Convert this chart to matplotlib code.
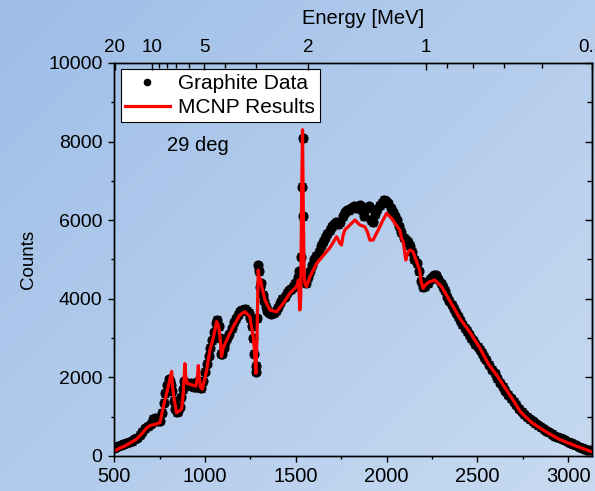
import numpy as np
import matplotlib
matplotlib.use("Agg")
import matplotlib.pyplot as plt
from matplotlib.lines import Line2D
from matplotlib.ticker import MultipleLocator, FixedLocator, NullFormatter

plt.rcParams['font.family'] = ['Liberation Sans', 'DejaVu Sans']

# ---------------- data ----------------
data_ch = [500, 510, 520, 535, 550, 565, 580, 595, 610, 625, 640, 655, 670, 685, 700,
           712, 722, 735, 750, 762, 772, 782, 792, 800, 806, 812, 820, 828, 836, 844,
           852, 860, 868, 876, 884, 892, 900, 910, 920, 930, 940, 950, 960, 970, 980,
           990, 1000, 1010, 1020, 1030, 1040, 1050, 1060, 1068, 1076, 1084, 1090, 1096,
           1104, 1112, 1122, 1134, 1146, 1158, 1170, 1182, 1194, 1206, 1218, 1230, 1240,
           1250, 1258, 1266, 1272, 1278, 1283, 1288, 1292, 1298, 1304, 1310, 1318, 1326,
           1334, 1344, 1354, 1366, 1378, 1390, 1402, 1414, 1426, 1438, 1450, 1462, 1474,
           1486, 1498, 1510, 1520, 1527, 1532, 1537, 1542, 1548, 1556, 1566, 1578, 1590,
           1602, 1614, 1626, 1638, 1650, 1662, 1674, 1686, 1698, 1710, 1722, 1734, 1746,
           1758, 1770, 1782, 1794, 1806, 1818, 1830, 1842, 1854, 1866, 1878, 1890, 1902,
           1914, 1926, 1938, 1950, 1962, 1974, 1986, 1998, 2010, 2022, 2034, 2046, 2058,
           2070, 2082, 2094, 2106, 2118, 2130, 2142, 2154, 2166, 2178, 2190, 2202, 2214,
           2226, 2238, 2250, 2262, 2274, 2286, 2298, 2310, 2322, 2334, 2346, 2358, 2370,
           2382, 2394, 2406, 2418, 2430, 2442, 2454, 2466, 2478, 2490, 2502, 2514, 2526,
           2538, 2550, 2565, 2580, 2595, 2610, 2625, 2640, 2655, 2670, 2685, 2700, 2715,
           2730, 2745, 2760, 2775, 2790, 2805, 2820, 2835, 2850, 2865, 2880, 2895, 2910,
           2925, 2940, 2955, 2970, 2985, 3000, 3015, 3030, 3045, 3060, 3075, 3090, 3105, 3120]
data_counts = [200, 230, 250, 270, 300, 320, 350, 370, 420, 470, 540, 620, 700, 760, 820,
               950, 960, 880, 900, 1100, 1350, 1600, 1800, 1950, 1900, 1800, 1650, 1400, 1200, 1120,
               1140, 1250, 1500, 1700, 1900, 1850, 1820, 1800, 1850, 1780, 1750, 1760, 1900, 1750, 1720,
               1900, 2150, 2350, 2550, 2750, 2950, 3150, 3380, 3460, 3300, 3000, 2600, 2600,
               2750, 2900, 3000, 3100, 3250, 3400, 3500, 3600, 3680, 3720, 3740, 3700, 3650,
               3500, 3300, 3000, 2600, 2150, 2300, 3500, 4850, 4700, 4300, 4400, 4100, 3950,
               3800, 3700, 3640, 3620, 3650, 3700, 3780, 3900, 4000, 4050, 4150, 4220, 4250,
               4300, 4400, 4550, 4700, 5070, 6850, 8080, 6100, 4500, 4400, 4550, 4700, 4850,
               5000, 5100, 5200, 5350, 5450, 5550, 5650, 5750, 5850, 5900, 5950, 5900, 5950,
               6100, 6200, 6250, 6250, 6300, 6350, 6300, 6350, 6380, 6250, 6100, 6300, 6350,
               6000, 5950, 6150, 6280, 6380, 6450, 6520, 6480, 6430, 6300, 6200, 6100, 6000,
               5850, 5700, 5550, 5500, 5450, 5350, 5200, 5000, 4900, 4700, 4450, 4300, 4320,
               4400, 4500, 4550, 4600, 4600, 4500, 4400, 4300, 4200, 4050, 3950, 3850, 3750,
               3650, 3550, 3450, 3350, 3250, 3180, 3100, 3000, 2950, 2850, 2780, 2700, 2620,
               2520, 2450, 2320, 2200, 2100, 1980, 1870, 1760, 1660, 1560, 1470, 1380, 1300,
               1200, 1130, 1060, 1000, 940, 880, 830, 780, 730, 680, 640, 600, 560,
               520, 490, 460, 430, 400, 360, 330, 300, 270, 240, 215, 190, 165, 140]
data_err = 90

mcnp_ch = [500, 530, 560, 586, 620, 650, 680, 700, 720, 752, 770, 797, 808, 816, 820, 828,
           843, 860, 871, 880, 886, 889, 894, 902, 920, 935, 950, 958, 963, 968, 975, 985,
           1000, 1009, 1027, 1045, 1064, 1075, 1082, 1091, 1100, 1119, 1155, 1192, 1220,
           1247, 1265, 1272, 1280, 1286, 1293, 1300, 1306, 1312, 1330, 1357, 1394, 1431,
           1467, 1504, 1515, 1522, 1527, 1532, 1537, 1542, 1546, 1550, 1559, 1578, 1615,
           1651, 1688, 1725, 1743, 1752, 1760, 1770, 1798, 1826, 1853, 1880, 1895, 1908,
           1926, 1954, 1980, 2000, 2028, 2046, 2073, 2083, 2092, 2106, 2115, 2128, 2146,
           2182, 2190, 2201, 2220, 2238, 2266, 2303, 2349, 2404, 2459, 2514, 2560, 2606,
           2661, 2697, 2734, 2752, 2800, 2850, 2899, 2950, 2991, 3040, 3083, 3129]
mcnp_counts = [130, 200, 260, 330, 420, 560, 720, 780, 800, 850, 1250, 1760, 2000, 2150, 1800, 1500,
               1100, 1150, 1200, 1600, 2100, 2350, 2000, 1850, 1820, 1800, 1780, 2000, 2300, 2000, 1750, 1700,
               2000, 2190, 2700, 3000, 3420, 3300, 3040, 2530, 2750, 2950, 3290, 3590, 3670,
               3545, 3040, 2700, 2100, 3000, 4730, 4400, 4500, 4310, 3970, 3715, 3670, 3885,
               4140, 4309, 4480, 3715, 4000, 6500, 8300, 6000, 4600, 4394, 4309, 4563, 4900,
               5100, 5300, 5580, 5412, 5369, 5600, 5751, 5878, 6005, 5878, 5835, 5700, 5496,
               5496, 5751, 6000, 6175, 6048, 5921, 5751, 5539, 5453, 4987, 5150, 5242, 5200,
               4733, 4450, 4267, 4380, 4436, 4478, 4309, 3950, 3500, 3150, 2750, 2350, 2061,
               1680, 1425, 1150, 1060, 850, 700, 560, 430, 350, 260, 190, 110]

energy_major = [20, 10, 5, 2, 1, 0.5]
energy_major_labels = ["20", "10", "5", "2", "1", "0.5"]
energy_minor = [9, 8, 7, 6, 4, 3, 0.9, 0.8, 0.7, 0.6]

# time-of-flight channel <-> energy calibration
T0, K = 8.0, 2208.0
def e_to_ch(e):
    return T0 + K / np.sqrt(np.asarray(e, dtype=float))

# ---------------- figure ----------------
W, H = 595, 491
fig = plt.figure(figsize=(W / 100, H / 100), dpi=100)

# gradient background
bg = fig.add_axes([0, 0, 1, 1], zorder=-10)
c0 = np.array([158, 190, 231]) / 255.0
c1 = np.array([200, 218, 241]) / 255.0
yy, xx = np.mgrid[0:1:200j, 0:1:200j]
t = (xx * 0.55 + yy * 0.45)
img = c0[None, None, :] * (1 - t[..., None]) + c1[None, None, :] * t[..., None]
bg.imshow(img, aspect='auto', extent=[0, 1, 0, 1], origin='upper')
bg.axis('off')

left, right_px, bottom_px, top_px = 114.3, 592.0, 456.0, 63.0
ax = fig.add_axes([left / W, (H - bottom_px) / H, (right_px - left) / W, (bottom_px - top_px) / H])
ax.set_facecolor('none')

ax.errorbar(data_ch, data_counts, yerr=data_err, fmt='o', ms=6.3, color='black',
            ecolor='#222222', elinewidth=0.8, capsize=3, capthick=0.8, zorder=2)
ax.plot(mcnp_ch, mcnp_counts, color='#ff0000', lw=2.3, zorder=3)

ax.set_xlim(500, 3132)
ax.set_ylim(0, 10000)
ax.xaxis.set_major_locator(MultipleLocator(500))
ax.xaxis.set_minor_locator(MultipleLocator(250))
ax.yaxis.set_major_locator(MultipleLocator(2000))
ax.yaxis.set_minor_locator(MultipleLocator(1000))
ax.tick_params(axis='x', which='major', direction='out', length=4, width=1, labelsize=14.5, pad=4)
ax.tick_params(axis='x', which='minor', direction='out', length=2.5, width=1)
ax.tick_params(axis='y', which='major', direction='out', length=4.5, width=1, labelsize=14, pad=4)
ax.tick_params(axis='y', which='minor', direction='out', length=2.5, width=1)
ax.tick_params(top=False, right=False)
for s in ax.spines.values():
    s.set_linewidth(1.0)

ax.set_ylabel('Counts', fontsize=13.5, labelpad=8)

# right axis ticks (inward)
sec = ax.secondary_yaxis('right')
sec.yaxis.set_major_locator(MultipleLocator(2000))
sec.yaxis.set_minor_locator(MultipleLocator(1000))
sec.tick_params(which='major', direction='in', length=5, width=1, labelright=False)
sec.tick_params(which='minor', direction='in', length=3.5, width=1)
sec.yaxis.set_major_formatter(NullFormatter())

# top energy axis
ax2 = ax.twiny()
ax2.set_xlim(ax.get_xlim())
ax2.set_xticks(e_to_ch(energy_major))
ax2.set_xticklabels(energy_major_labels)
ax2.xaxis.set_minor_locator(FixedLocator(e_to_ch(energy_minor)))
ax2.tick_params(axis='x', which='major', direction='in', length=5, width=1, labelsize=13.5, pad=5)
ax2.tick_params(axis='x', which='minor', direction='in', length=3.5, width=1)
for s in ax2.spines.values():
    s.set_linewidth(1.0)
fig.text(363 / W, 1 - 19 / H, 'Energy [MeV]', fontsize=14.5, ha='center', va='center')

handles = [Line2D([], [], marker='o', ls='none', color='black', ms=4.5),
           Line2D([], [], color='#ff0000', lw=2.3)]
leg = ax.legend(handles, ['Graphite Data', 'MCNP Results'], loc='upper left',
                bbox_to_anchor=(0.013, 0.984), borderaxespad=0,
                fontsize=15, frameon=True, fancybox=False, edgecolor='black',
                framealpha=1, handlelength=2.15, handletextpad=0.4, borderpad=0.22,
                labelspacing=0.25)
leg.get_frame().set_linewidth(0.8)

ax.text(788, 7900, '29 deg', fontsize=14.5, ha='left', va='center')

fig.savefig('out.png', dpi=100)
